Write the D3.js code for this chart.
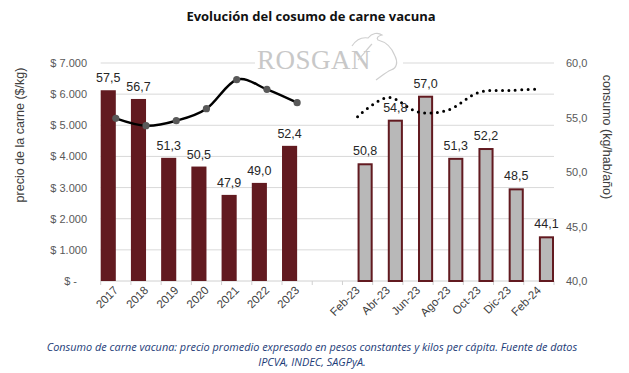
<!DOCTYPE html>
<html>
<head>
<meta charset="utf-8">
<script src="https://cdn.jsdelivr.net/npm/d3@7"></script>
<style>
  body { margin: 0; background: #fff; }
  text { font-family: "Liberation Sans", Arial, sans-serif; }
</style>
</head>
<body>
<div id="graph"></div>
<script>
// data
const years = ["2017", "2018", "2019", "2020", "2021", "2022", "2023"];
const months = ["Feb-23", "Abr-23", "Jun-23", "Ago-23", "Oct-23", "Dic-23", "Feb-24"];
const consumoAnual = [57.5, 56.7, 51.3, 50.5, 47.9, 49.0, 52.4];
const consumoMensual = [50.8, 54.8, 57.0, 51.3, 52.2, 48.5, 44.1];
const precioAnual = [5224, 4987, 5147, 5533, 6464, 6155, 5725];
const precioMensual = [5276, 5892, 5427, 5491, 6053, 6117, 6165];
const precioTicks = [0, 1000, 2000, 3000, 4000, 5000, 6000, 7000];
const consumoTicks = [40, 45, 50, 55, 60];

const W = 629, H = 373;
const margin = {top: 63, left: 100.7, right: 75, bottom: 92};
const maroon = "#621a20";

const svg = d3.select("#graph").append("svg")
    .attr("width", W)
    .attr("height", H);

// one category axis: years, a blank slot, months
const cats = years.concat([" "], months);
let x = d3.scaleBand().domain(cats).range([margin.left, W - margin.right]).padding(0);
let bw = x.bandwidth();
let yL = d3.scaleLinear().domain([0, 7000]).range([281, 63]);
let yR = d3.scaleLinear().domain([40, 60]).range([281, 63]);

// title
svg.append("text")
    .attr("x", 311).attr("y", 21)
    .attr("text-anchor", "middle")
    .style("font-family", "'Open Sans', sans-serif")
    .style("font-weight", "bold")
    .style("font-size", "13px")
    .attr("fill", "#111")
    .text("Evolución del cosumo de carne vacuna");

// gridlines
svg.append("g").selectAll("line")
    .data(precioTicks)
    .join("line")
    .attr("x1", x.range()[0]).attr("x2", x.range()[1])
    .attr("y1", d => yL(d)).attr("y2", d => yL(d))
    .attr("stroke", d => d === 0 ? "#d0d0d0" : "#d9d9d9")
    .attr("stroke-width", 1);

// tick marks between categories
svg.append("g").selectAll("line")
    .data(d3.range(cats.length + 1))
    .join("line")
    .attr("x1", i => x.range()[0] + i * bw).attr("x2", i => x.range()[0] + i * bw)
    .attr("y1", 281).attr("y2", 285)
    .attr("stroke", "#d0d0d0");

// watermark logo
let logo = svg.append("g");
logo.append("rect")
    .attr("x", 255).attr("y", 50).attr("width", 148).attr("height", 22)
    .attr("fill", "#fff");
logo.append("text")
    .attr("x", 314).attr("y", 69)
    .attr("text-anchor", "middle")
    .style("font-family", "'Liberation Serif', serif")
    .style("font-size", "27px")
    .style("letter-spacing", "0.5px")
    .attr("fill", "#c8c8c8")
    .text("ROSGAN");
logo.append("path")
    .attr("d", "M352,46 C356,40 362,37 368,38 C372,33 378,32 382,35 C378,36 376,38 378,40 C386,42 392,48 395,56 C398,62 397,68 391,70 C386,72 382,76 376,80 M372,44 C368,48 364,54 358,60")
    .attr("fill", "none")
    .attr("stroke", "#cfcfcf")
    .attr("stroke-width", 1.2);

// left axis labels
svg.append("g").selectAll("text")
    .data(precioTicks)
    .join("text")
    .attr("x", d => d === 0 ? 77 : 87)
    .attr("y", d => yL(d) + 4)
    .attr("text-anchor", "end")
    .style("font-size", "11px")
    .attr("fill", "#595959")
    .text(d => d === 0 ? "$ -" : "$ " + d3.format(",")(d).replace(",", "."));

// right axis labels
svg.append("g").selectAll("text")
    .data(consumoTicks)
    .join("text")
    .attr("x", 566)
    .attr("y", d => yR(d) + 4)
    .style("font-size", "11px")
    .attr("fill", "#595959")
    .text(d => d3.format(".1f")(d).replace(".", ","));

// axis titles
svg.append("text")
    .attr("transform", "translate(24,135) rotate(-90)")
    .attr("text-anchor", "middle")
    .style("font-size", "12.5px")
    .attr("fill", "#404040")
    .text("precio de la carne ($/kg)");
svg.append("text")
    .attr("transform", "translate(603,137) rotate(90)")
    .attr("text-anchor", "middle")
    .style("font-size", "12.5px")
    .attr("fill", "#404040")
    .text("consumo (kg/hab/año)");

// bars: years in first half of the slot, months in second half
svg.append("g").selectAll("rect")
    .data(years)
    .join("rect")
    .attr("x", d => x(d))
    .attr("width", bw / 2)
    .attr("y", (d, i) => yR(consumoAnual[i]))
    .attr("height", (d, i) => 281 - yR(consumoAnual[i]))
    .attr("fill", maroon);

svg.append("g").selectAll("rect")
    .data(months)
    .join("rect")
    .attr("x", d => x(d) + bw / 2 + 1)
    .attr("width", bw / 2 - 2)
    .attr("y", (d, i) => yR(consumoMensual[i]) + 1)
    .attr("height", (d, i) => 281 - yR(consumoMensual[i]) - 1)
    .attr("fill", "#b8b8b8")
    .attr("stroke", maroon)
    .attr("stroke-width", 2);

// price lines
let line = d3.line().curve(d3.curveCatmullRom.alpha(0));
let ptsA = years.map((d, i) => [x(d) + bw / 2, yL(precioAnual[i])]);
let ptsM = months.map((d, i) => [x(d) + bw / 2, yL(precioMensual[i])]);

svg.append("path")
    .attr("d", line(ptsA))
    .attr("fill", "none")
    .attr("stroke", "#000")
    .attr("stroke-width", 2.5);

svg.append("g").selectAll("circle")
    .data(ptsA)
    .join("circle")
    .attr("cx", d => d[0]).attr("cy", d => d[1])
    .attr("r", 3.6)
    .attr("fill", "#595959");

svg.append("path")
    .attr("d", line(ptsM))
    .attr("fill", "none")
    .attr("stroke", "#000")
    .attr("stroke-width", 3)
    .attr("stroke-linecap", "round")
    .attr("stroke-dasharray", "0,6.4");

// value labels
svg.append("g").selectAll("text")
    .data(years)
    .join("text")
    .attr("x", d => x(d) + bw / 4)
    .attr("y", (d, i) => yR(consumoAnual[i]) - 8)
    .attr("text-anchor", "middle")
    .style("font-size", "12.5px")
    .attr("fill", "#262626")
    .text((d, i) => d3.format(".1f")(consumoAnual[i]).replace(".", ","));

svg.append("g").selectAll("text")
    .data(months)
    .join("text")
    .attr("x", d => x(d) + bw * 3 / 4)
    .attr("y", (d, i) => yR(consumoMensual[i]) - 8)
    .attr("text-anchor", "middle")
    .style("font-size", "12.5px")
    .attr("fill", "#262626")
    .text((d, i) => d3.format(".1f")(consumoMensual[i]).replace(".", ","));

// category labels
svg.append("g").selectAll("text")
    .data(cats.filter(d => d.trim() !== ""))
    .join("text")
    .attr("transform", d => "translate(" + (x(d) + bw / 2 + 3) + ",291) rotate(-45)")
    .attr("text-anchor", "end")
    .style("font-size", "11.5px")
    .attr("fill", "#404040")
    .text(d => d);

// caption
const caption = ["Consumo de carne vacuna: precio promedio expresado en pesos constantes y kilos per cápita. Fuente de datos",
                 "IPCVA, INDEC, SAGPyA."];
svg.append("g").selectAll("text")
    .data(caption)
    .join("text")
    .attr("x", 312)
    .attr("y", (d, i) => 351 + i * 15)
    .attr("text-anchor", "middle")
    .style("font-family", "'Open Sans', sans-serif")
    .style("font-style", "italic")
    .style("font-size", "10.9px")
    .attr("fill", "#1d3c78")
    .text(d => d);
</script>
</body>
</html>
